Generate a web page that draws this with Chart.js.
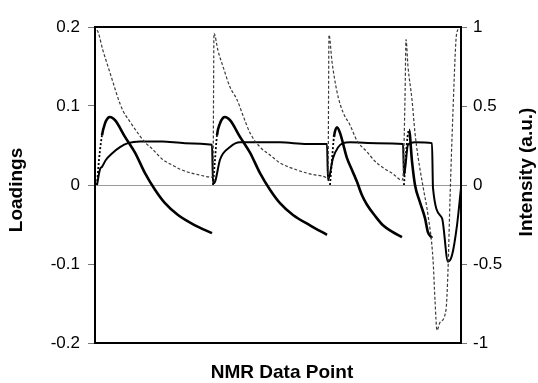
<!DOCTYPE html>
<html>
 <head>
  <title>NMR loadings</title>
  <meta charset="utf-8">
  <script src="https://cdn.jsdelivr.net/npm/chart.js"></script>
  <style>
    body { margin: 0; background: #ffffff; }
    #wrap { width: 538px; height: 383px; position: relative; }
  </style>
 </head>
 <body>
  <div id="wrap"><canvas id="myChart"></canvas></div>
  <script type="text/javascript">
    // tick labels
    var leftTicks = [-0.2, -0.1, 0, 0.1, 0.2];
    var rightTicks = [-1, -0.5, 0, 0.5, 1];

    // raw intensity (right axis), four concatenated curves
    var intensityX = [2, 3, 8, 12, 18, 23, 28, 35, 45, 50, 57, 67, 77, 87, 100, 117,
                      118, 119, 123, 128, 135, 142, 148, 155, 165, 175, 185, 202, 215, 232,
                      233, 234, 237, 242, 248, 255, 262, 272, 280, 288, 298, 307,
                      308, 310, 311, 313, 317, 320, 323, 328, 333, 338, 340, 342, 345, 351, 353, 355, 358, 361, 363];
    var intensityY = [0.98, 0.97, 0.85, 0.77, 0.65, 0.55, 0.47, 0.40, 0.31, 0.27, 0.23, 0.165, 0.127, 0.095, 0.07, 0.05,
                      0.06, 0.96, 0.85, 0.75, 0.62, 0.54, 0.44, 0.33, 0.24, 0.19, 0.14, 0.095, 0.07, 0.045,
                      0.04, 0.95, 0.78, 0.59, 0.46, 0.38, 0.28, 0.21, 0.15, 0.11, 0.07, 0.03,
                      0.05, 0.55, 0.92, 0.75, 0.54, 0.33, 0.18, -0.01, -0.19, -0.47, -0.73, -0.92, -0.87, -0.79, -0.54, -0.09, 0.47, 0.92, 0.99];

    // loading 1 (plateau shaped)
    var load1X = [2, 5, 7, 11, 17, 25, 33, 45, 67, 90, 117, 118,
                  120, 125, 135, 145, 185, 212, 232, 233,
                  238, 248, 255, 282, 308, 309,
                  313, 320, 337, 338, 347, 353, 357, 362, 366];
    var load1Y = [0, 0.02, 0.023, 0.032, 0.04, 0.048, 0.053, 0.055, 0.055, 0.053, 0.051, 0.002,
                  0.004, 0.032, 0.048, 0.054, 0.054, 0.052, 0.052, 0.006,
                  0.034, 0.053, 0.054, 0.053, 0.052, 0.012,
                  0.051, 0.054, 0.053, -0.004, -0.042, -0.097, -0.089, -0.051, -0.004];

    // loading 2 (rise then decay), null = break between curves
    var load2X = [2, 4, 7, 10, 13, 15, 20, 30, 40, 50, 60, 70, 83, 100, 117, 117.5,
                  118, 120, 122, 125, 128, 130, 135, 145, 155, 165, 175, 185, 198, 215, 232, 233,
                  235, 237, 239, 242, 245, 252, 257, 262, 267, 272, 280, 288, 297, 307, 308,
                  309, 311, 314, 317, 320, 325, 330, 333, 337];
    var load2Y = [0, 0.032, 0.063, 0.078, 0.085, 0.086, 0.082, 0.061, 0.041, 0.015, -0.006, -0.023, -0.038, -0.051, -0.061, null,
                  0, 0.032, 0.063, 0.078, 0.085, 0.086, 0.082, 0.061, 0.041, 0.015, -0.006, -0.023, -0.038, -0.051, -0.063, null,
                  0, 0.032, 0.061, 0.073, 0.066, 0.034, 0.019, 0.004, -0.013, -0.025, -0.039, -0.051, -0.059, -0.066, null,
                  0, 0.04, 0.07, 0.03, 0.0, -0.022, -0.042, -0.06, -0.067];

    function pts(xs, ys) {
        return xs.map((x, i) => ({ x: x, y: ys[i] }));
    }

    var FONT = '"Liberation Sans", Arial, sans-serif';

    // box round the plot and the three axis titles
    const frame = {
        id: 'frame',
        afterDraw(chart) {
            const ctx = chart.ctx;
            const a = chart.chartArea;
            ctx.save();
            ctx.strokeStyle = '#000';
            ctx.lineWidth = 2;
            ctx.strokeRect(a.left, a.top, a.right - a.left, a.bottom - a.top);
            ctx.fillStyle = '#000';
            ctx.font = 'bold 19px ' + FONT;
            ctx.textAlign = 'center';
            ctx.textBaseline = 'middle';
            ctx.fillText('NMR Data Point', 282, 373);
            ctx.translate(17, 190);
            ctx.rotate(-Math.PI / 2);
            ctx.fillText('Loadings', 0, 0);
            ctx.restore();
            ctx.save();
            ctx.fillStyle = '#000';
            ctx.font = 'bold 19px ' + FONT;
            ctx.textAlign = 'center';
            ctx.textBaseline = 'middle';
            ctx.translate(527, 172);
            ctx.rotate(-Math.PI / 2);
            ctx.fillText('Intensity (a.u.)', 0, 0);
            ctx.restore();
        }
    };

    var ctx = document.getElementById('myChart').getContext('2d');
    var myChart = new Chart(ctx, {
        type: 'line',
        data: {
            datasets: [{
                label: 'Intensity',
                data: pts(intensityX, intensityY),
                yAxisID: 'yR',
                borderColor: '#3a3a3a',
                borderWidth: 1.2,
                borderDash: [3, 2],
                pointRadius: 0,
                cubicInterpolationMode: 'monotone'
            }, {
                label: 'Loading 1',
                data: pts(load1X, load1Y),
                yAxisID: 'y',
                borderColor: '#000',
                borderWidth: 2,
                pointRadius: 0,
                cubicInterpolationMode: 'monotone'
            }, {
                label: 'Loading 2',
                data: pts(load2X, load2Y),
                yAxisID: 'y',
                borderColor: '#000',
                borderWidth: 2.6,
                pointRadius: 0,
                spanGaps: false,
                cubicInterpolationMode: 'monotone',
                segment: {
                    borderDash: c => {
                        var s = (c.p1.parsed.y - c.p0.parsed.y) / (c.p1.parsed.x - c.p0.parsed.x);
                        return s > 0.008 ? [2, 2] : undefined;
                    },
                    borderWidth: c => {
                        var s = (c.p1.parsed.y - c.p0.parsed.y) / (c.p1.parsed.x - c.p0.parsed.x);
                        return s > 0.008 ? 1.8 : undefined;
                    }
                }
            }]
        },
        options: {
            responsive: true,
            maintainAspectRatio: false,
            animation: false,
            layout: { padding: { top: 27, bottom: 40, left: 0, right: 0 } },
            plugins: { legend: { display: false }, tooltip: { enabled: false } },
            scales: {
                x: { type: 'linear', min: 0, max: 366, display: false },
                y: {
                    position: 'left',
                    min: -0.2, max: 0.2,
                    afterBuildTicks: s => { s.ticks = leftTicks.map(v => ({ value: v })); },
                    afterFit: s => { s.width = 95; },
                    border: { display: false },
                    grid: {
                        drawOnChartArea: true,
                        color: c => (c.tick && c.tick.value === 0) ? '#9a9a9a' : 'rgba(0,0,0,0)',
                        tickColor: '#777',
                        tickLength: 7,
                        lineWidth: 1
                    },
                    ticks: {
                        padding: 8,
                        color: '#000',
                        font: { family: FONT, size: 17 },
                        callback: v => String(v)
                    }
                },
                yR: {
                    position: 'right',
                    min: -1, max: 1,
                    afterBuildTicks: s => { s.ticks = rightTicks.map(v => ({ value: v })); },
                    afterFit: s => { s.width = 77; },
                    border: { display: false },
                    grid: {
                        drawOnChartArea: false,
                        tickColor: '#777',
                        tickLength: 6
                    },
                    ticks: {
                        padding: 6,
                        color: '#000',
                        font: { family: FONT, size: 17 },
                        callback: v => String(v)
                    }
                }
            }
        },
        plugins: [frame]
    });
  </script>
 </body>
</html>
